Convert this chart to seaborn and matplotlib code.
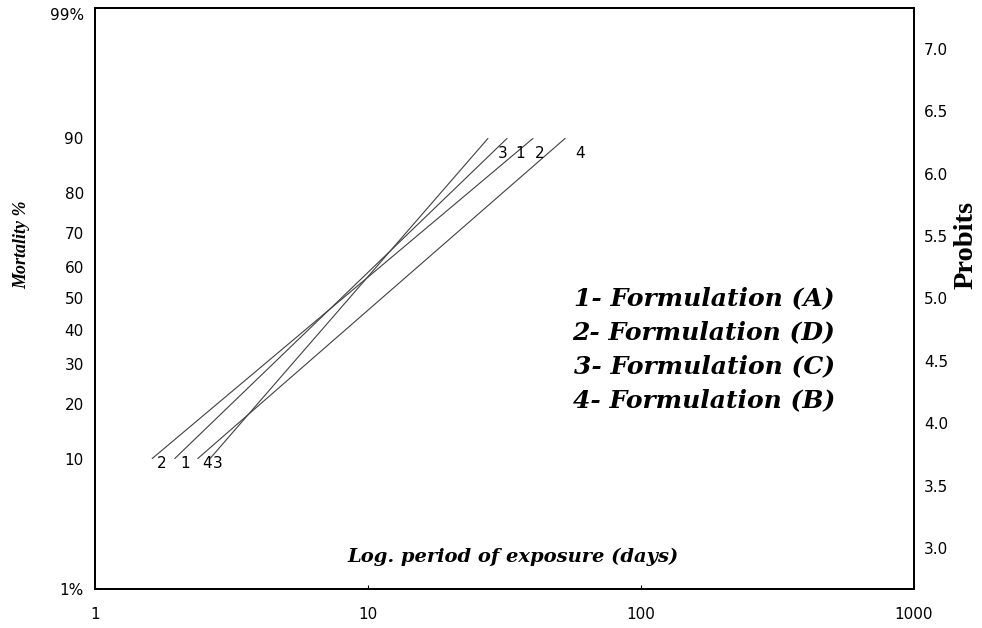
from statistics import NormalDist

import matplotlib
matplotlib.use("Agg")
import matplotlib.pyplot as plt
import pandas as pd
import seaborn as sns

# Probit regression lines: lethal times (days) for 10 % and 90 % mortality
line_ids = ["1", "2", "3", "4"]
formulations = ["A", "D", "C", "B"]
lt10_days = [1.96, 1.62, 2.64, 2.38]
lt90_days = [32.3, 40.2, 27.5, 52.7]
end_mortality_pct = [10, 90]

# Axis tick definitions
mortality_ticks_pct = [1, 10, 20, 30, 40, 50, 60, 70, 80, 90, 99]
mortality_tick_labels = ["1%", "10", "20", "30", "40", "50", "60", "70", "80", "90", "99%"]
probit_ticks = [3.0, 3.5, 4.0, 4.5, 5.0, 5.5, 6.0, 6.5, 7.0]
x_ticks = [1, 10, 100, 1000]
x_tick_labels = ["1", "10", "100", "1000"]


def probit(pct):
    return 5.0 + NormalDist().inv_cdf(pct / 100.0)


rows = []
for lid, lo, hi in zip(line_ids, lt10_days, lt90_days):
    for days, pct in zip([lo, hi], end_mortality_pct):
        rows.append({"line": lid, "days": days, "probit": probit(pct)})
df = pd.DataFrame(rows)

sns.set_style("white")
plt.rcParams.update({
    "font.family": ["DejaVu Sans"],
    "text.color": "black",
    "axes.labelcolor": "black",
    "xtick.color": "black",
    "ytick.color": "black",
})

SERIF_WIDE = "DejaVu Serif"
SERIF = "Liberation Serif"

fig = plt.figure(figsize=(9.82, 6.28), dpi=100)
ax = fig.add_axes([0.0967, 0.0621, 0.8341, 0.9252])

sns.lineplot(data=df, x="days", y="probit", units="line", estimator=None,
             color="#404040", linewidth=0.8, ax=ax, legend=False)

ax.set_xscale("log")
ax.set_xlim(1, 1000)
ylo, yhi = probit(1), probit(99)
ax.set_ylim(ylo, yhi)

ax.set_xticks(x_ticks)
ax.set_xticklabels(x_tick_labels)
ax.xaxis.set_minor_locator(matplotlib.ticker.NullLocator())
ax.tick_params(axis="x", direction="in", length=3, width=0.8, pad=13,
               labelsize=11, colors="black", bottom=True)

ax.set_yticks([probit(p) for p in mortality_ticks_pct])
ax.set_yticklabels(mortality_tick_labels)
ax.tick_params(axis="y", length=0, pad=8, labelsize=11, colors="black")
ax.get_yticklabels()[-1].set_va("top")

ax.set_xlabel("")
ax.set_ylabel("Mortality %", family=SERIF, fontsize=13,
              fontweight="bold", style="italic", va="center")
ax.yaxis.set_label_coords(-0.089, 0.592)

ax2 = ax.twinx()
ax2.set_ylim(ylo, yhi)
ax2.set_yticks(probit_ticks)
ax2.set_yticklabels([f"{t:.1f}" for t in probit_ticks])
ax2.tick_params(axis="y", length=0, pad=7, labelsize=11, colors="black")
ax2.set_ylabel("Probits", family=SERIF, fontsize=20.5, fontweight="bold",
               va="center")
ax2.yaxis.set_label_coords(1.0635, 0.592)

for a in (ax, ax2):
    for side, sp in a.spines.items():
        sp.set_color("black")
        sp.set_linewidth(1.3)
        sp.set_visible(True)

# Line number labels at both ends of each regression line
top_offsets = {"1": (13, -15), "2": (7, -15), "3": (15, -15), "4": (15, -15)}
bottom_offsets = {"1": (10, -5), "2": (10, -5), "3": (8, -5), "4": (9, -5)}
for lid, lo, hi in zip(line_ids, lt10_days, lt90_days):
    ax.annotate(lid, xy=(hi, probit(end_mortality_pct[1])), xytext=top_offsets[lid],
                textcoords="offset pixels", ha="center", va="center", fontsize=11)
    ax.annotate(lid, xy=(lo, probit(end_mortality_pct[0])), xytext=bottom_offsets[lid],
                textcoords="offset pixels", ha="center", va="center", fontsize=11)

# Key of formulations
key_y = [0.5009, 0.4423, 0.3838, 0.3253]
for lid, form, yy in zip(line_ids, formulations, key_y):
    ax.text(0.9035, yy, f"{lid}- Formulation ({form})", transform=ax.transAxes,
            ha="right", va="center", family=SERIF_WIDE, fontsize=18,
            fontweight="bold", style="italic")

ax.text(0.510, 0.055, "Log. period of exposure (days)", transform=ax.transAxes,
        ha="center", va="center", family=SERIF_WIDE, fontsize=14,
        fontweight="bold", style="italic")

fig.savefig("out.png", dpi=100, facecolor="white")
